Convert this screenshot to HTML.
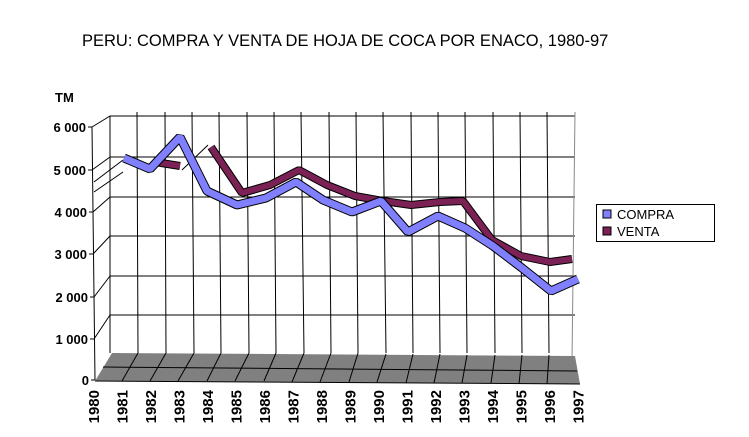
<!DOCTYPE html><html><head><style>body{margin:0;background:#fff}svg{display:block}text{font-family:"Liberation Sans",Arial,sans-serif;font-size:12px;font-weight:bold}</style></head><body>
<svg width="749" height="437" viewBox="0 0 749 437">
<text x="82" y="46" style="font-weight:normal;font-size:16.5px">PERU: COMPRA Y VENTA DE HOJA DE COCA POR ENACO, 1980-97</text>
<text x="55" y="102" style="font-size:13px">TM</text>
<g stroke="#000" stroke-width="1" fill="none">
<line x1="110" y1="116" x2="575" y2="116"/>
<line x1="110" y1="157" x2="575" y2="157"/>
<line x1="110" y1="197" x2="575" y2="197"/>
<line x1="110" y1="236" x2="575" y2="236"/>
<line x1="110" y1="276" x2="575" y2="276"/>
<line x1="110" y1="315" x2="575" y2="315"/>
<line x1="110" y1="116" x2="110" y2="353"/>
<line x1="92" y1="127" x2="95" y2="380"/>
<line x1="92" y1="127" x2="110" y2="116"/>
<line x1="92" y1="170" x2="110" y2="157"/>
<line x1="93" y1="212" x2="110" y2="197"/>
<line x1="93" y1="254" x2="110" y2="236"/>
<line x1="94" y1="297" x2="110" y2="276"/>
<line x1="94" y1="339" x2="110" y2="315"/>
<line x1="88" y1="127" x2="92" y2="127"/><line x1="88" y1="170" x2="92" y2="170"/><line x1="89" y1="212" x2="93" y2="212"/><line x1="89" y1="254" x2="93" y2="254"/><line x1="90" y1="297" x2="94" y2="297"/><line x1="90" y1="339" x2="94" y2="339"/><line x1="91" y1="380" x2="95" y2="380"/>
</g>
<line x1="575" y1="112" x2="572" y2="360" stroke="#888"/>
<g stroke="#000" stroke-width="1">
<line x1="137" y1="112" x2="138" y2="353"/><line x1="165" y1="112" x2="166" y2="353"/><line x1="192" y1="112" x2="194" y2="353"/><line x1="219" y1="112" x2="221" y2="353"/><line x1="247" y1="112" x2="249" y2="353"/><line x1="274" y1="112" x2="276" y2="353"/><line x1="301" y1="112" x2="304" y2="353"/><line x1="329" y1="112" x2="331" y2="353"/><line x1="356" y1="112" x2="358" y2="353"/><line x1="383" y1="112" x2="386" y2="353"/><line x1="411" y1="112" x2="413" y2="353"/><line x1="438" y1="112" x2="440" y2="353"/><line x1="465" y1="112" x2="467" y2="353"/><line x1="493" y1="112" x2="495" y2="353"/><line x1="520" y1="112" x2="522" y2="353"/><line x1="547" y1="112" x2="549" y2="353"/>
</g>
<polygon points="112,353 575,356 580,384 95,381" fill="#808080"/>
<g stroke="#000" stroke-width="1">
<line x1="103" y1="367" x2="577" y2="371"/>
<line x1="95" y1="381" x2="580" y2="384"/>
<line x1="138" y1="353" x2="122" y2="381"/><line x1="166" y1="353" x2="150" y2="381"/><line x1="194" y1="353" x2="178" y2="381"/><line x1="221" y1="353" x2="207" y2="381"/><line x1="249" y1="353" x2="235" y2="381"/><line x1="276" y1="353" x2="264" y2="381"/><line x1="304" y1="353" x2="292" y2="382"/><line x1="331" y1="353" x2="320" y2="382"/><line x1="358" y1="353" x2="349" y2="382"/><line x1="386" y1="354" x2="377" y2="382"/><line x1="413" y1="354" x2="406" y2="383"/><line x1="440" y1="354" x2="434" y2="383"/><line x1="467" y1="355" x2="462" y2="383"/><line x1="495" y1="355" x2="491" y2="383"/><line x1="522" y1="355" x2="519" y2="384"/><line x1="549" y1="355" x2="547" y2="384"/>
</g>
<g stroke="#000" stroke-width="1" fill="none">
<polyline points="94,182 123,160"/><polyline points="94,192 123,172"/>
<polyline points="150,168 178,136"/><polyline points="182,170 208,145"/>
<polyline points="462,201 490,238"/>
</g>
<polyline points="155,162 180,166" fill="none" stroke="#000" stroke-width="8"/>
<polyline points="155,162 180,166" fill="none" stroke="#7b2155" stroke-width="6"/>
<polyline points="211,147 242,193 270,185 299,170 327,185 355,196 383,201 411,205 440,202 463,201 492,240 521,256 550,262 572,259" fill="none" stroke="#000" stroke-width="8" stroke-linejoin="bevel"/>
<polyline points="211,147 242,193 270,185 299,170 327,185 355,196 383,201 411,205 440,202 463,201 492,240 521,256 550,262 572,259" fill="none" stroke="#7b2155" stroke-width="6" stroke-linejoin="bevel"/>
<polyline points="124,158 150,169 180,137 207,191 237,205 266,198 296,182 323,200 352,212 381,201 408,232 438,216 465,228 493,246 522,268 551,291 578,279" fill="none" stroke="#000" stroke-width="9" stroke-linejoin="bevel"/>
<polyline points="124,158 150,169 180,137 207,191 237,205 266,198 296,182 323,200 352,212 381,201 408,232 438,216 465,228 493,246 522,268 551,291 578,279" fill="none" stroke="#8080ff" stroke-width="7" stroke-linejoin="bevel"/>
<g text-anchor="end">
<text x="86" y="132" style="font-size:13px">6 000</text><text x="86" y="175" style="font-size:13px">5 000</text><text x="87" y="217" style="font-size:13px">4 000</text><text x="87" y="259" style="font-size:13px">3 000</text><text x="88" y="302" style="font-size:13px">2 000</text><text x="88" y="344" style="font-size:13px">1 000</text><text x="89" y="385" style="font-size:13px">0</text>
</g>
<g>
<text transform="translate(99,390) rotate(-90)" text-anchor="end" style="font-size:15px">1980</text>
<text transform="translate(127.5,390) rotate(-90)" text-anchor="end" style="font-size:15px">1981</text>
<text transform="translate(156,390) rotate(-90)" text-anchor="end" style="font-size:15px">1982</text>
<text transform="translate(184.5,390) rotate(-90)" text-anchor="end" style="font-size:15px">1983</text>
<text transform="translate(213,390) rotate(-90)" text-anchor="end" style="font-size:15px">1984</text>
<text transform="translate(241.5,390) rotate(-90)" text-anchor="end" style="font-size:15px">1985</text>
<text transform="translate(270,390) rotate(-90)" text-anchor="end" style="font-size:15px">1986</text>
<text transform="translate(298.5,390) rotate(-90)" text-anchor="end" style="font-size:15px">1987</text>
<text transform="translate(327,390) rotate(-90)" text-anchor="end" style="font-size:15px">1988</text>
<text transform="translate(355.5,390) rotate(-90)" text-anchor="end" style="font-size:15px">1989</text>
<text transform="translate(384,390) rotate(-90)" text-anchor="end" style="font-size:15px">1990</text>
<text transform="translate(412.5,390) rotate(-90)" text-anchor="end" style="font-size:15px">1991</text>
<text transform="translate(441,390) rotate(-90)" text-anchor="end" style="font-size:15px">1992</text>
<text transform="translate(469.5,390) rotate(-90)" text-anchor="end" style="font-size:15px">1993</text>
<text transform="translate(498,390) rotate(-90)" text-anchor="end" style="font-size:15px">1994</text>
<text transform="translate(526.5,390) rotate(-90)" text-anchor="end" style="font-size:15px">1995</text>
<text transform="translate(555,390) rotate(-90)" text-anchor="end" style="font-size:15px">1996</text>
<text transform="translate(583.5,390) rotate(-90)" text-anchor="end" style="font-size:15px">1997</text>
</g>
<rect x="596.5" y="204.5" width="118" height="37" fill="#fff" stroke="#000"/>
<rect x="603" y="210" width="8" height="8" fill="#8080ff" stroke="#000"/>
<text x="617" y="219" style="font-weight:normal;font-size:13px">COMPRA</text>
<rect x="603" y="227" width="8" height="8" fill="#7b2155" stroke="#000"/>
<text x="617" y="236" style="font-weight:normal;font-size:13px">VENTA</text>
</svg>
</body></html>
